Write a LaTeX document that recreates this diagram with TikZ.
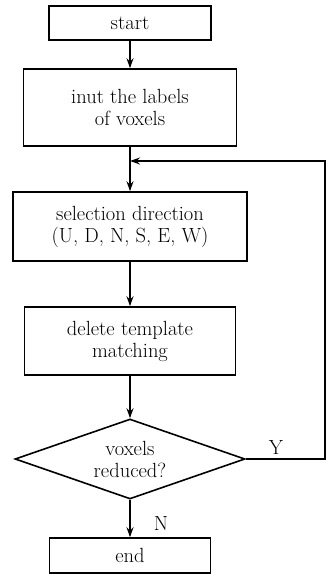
\documentclass[tikz,border=0pt]{standalone}
\usetikzlibrary{shapes.geometric,arrows.meta}
\tikzset{
  stepbox/.style={draw,line width=1.6pt,align=center,inner sep=0pt},
  flow/.style={line width=1.5pt,-{Stealth[length=10pt,width=7pt]}},
}
\begin{document}
\begin{tikzpicture}[x=1pt,y=-1pt,font=\fontsize{20.5}{22}\selectfont]
\useasboundingbox (0,0) rectangle (327,578);
\node[stepbox,minimum width=162,minimum height=34] (start) at (130,23) {start};
\node[stepbox,minimum width=213,minimum height=77] (input) at (130,107.5) {inut the labels\\of voxels};
\node[stepbox,minimum width=234,minimum height=69] (sel) at (130,226.5) {selection direction\\(U, D, N, S, E, W)};
\node[stepbox,minimum width=211,minimum height=68] (del) at (130,341) {delete template\\matching};
\node[stepbox,diamond,aspect=2.875,minimum width=230,minimum height=80] (dec) at (130,459) {voxels\\reduced?};
\node[stepbox,minimum width=161,minimum height=35] (end) at (130,555.5) {end};
\coordinate (join) at (130,161);
\coordinate (back) at (325,161);

\draw[flow] (start) -- (input);
\draw[flow] (input) -- (sel);
\draw[flow] (sel) -- (del);
\draw[flow] (del) -- (dec);
\draw[flow] (dec) -- (end);
\draw[flow] (dec.east) -| (back) -- (join);

\node (yes) at (276,447) {Y};
\node (no) at (161,523) {N};
\end{tikzpicture}
\end{document}
